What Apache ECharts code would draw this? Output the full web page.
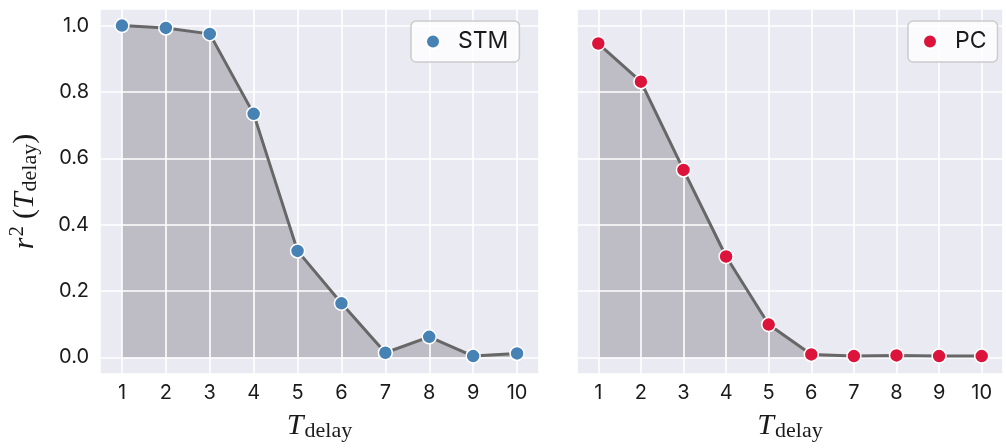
<!DOCTYPE html>
<html>
<head>
<meta charset="utf-8">
<script src="https://cdn.jsdelivr.net/npm/echarts@6/dist/echarts.min.js"></script>
<style>
  html, body { margin: 0; padding: 0; background: #ffffff; }
  #chart { width: 1006px; height: 448px; }
</style>
</head>
<body>
<div id="chart"></div>
<script>
// Delay values on the horizontal axis
const tDelay = [1, 2, 3, 4, 5, 6, 7, 8, 9, 10];
// r^2 of the recall task for each delay
const stmR2 = [1.000, 0.993, 0.975, 0.734, 0.321, 0.163, 0.014, 0.062, 0.004, 0.012];
const pcR2  = [0.946, 0.831, 0.565, 0.304, 0.099, 0.009, 0.004, 0.006, 0.004, 0.004];
// Tick labels shown on the y axis
const yTickLabels = ['0.0', '0.2', '0.4', '0.6', '0.8', '1.0'];
// Panel names
const panelNames = ['STM', 'PC'];
const markerColors = ['#4682b4', '#dc143c'];

const sansFont = 'Inter, "Open Sans", sans-serif';
const mathFont = '"Liberation Serif", "DejaVu Serif", serif';
const textColor = '#1a1a1a';

const stmPoints = tDelay.map((t, i) => [t, stmR2[i]]);
const pcPoints = tDelay.map((t, i) => [t, pcR2[i]]);

const mathRich = {
  i:   { fontFamily: mathFont, fontStyle: 'italic', fontSize: 30, color: textColor },
  p:   { fontFamily: mathFont, fontSize: 30, color: textColor },
  sup: { fontFamily: mathFont, fontSize: 21, color: textColor, padding: [0, 7, 16, 1] },
  sub: { fontFamily: mathFont, fontSize: 22, color: textColor, padding: [10, 0, 0, 1] }
};

function xAxisFor(gridIndex) {
  return {
    type: 'value', gridIndex: gridIndex, min: 0.5, max: 10.5,
    minInterval: 1, maxInterval: 1, splitNumber: 10, z: 2,
    axisLine: { show: false }, axisTick: { show: false },
    splitLine: { show: true, lineStyle: { color: '#ffffff', width: 1.6 } },
    axisLabel: {
      margin: 9, fontFamily: sansFont, fontSize: 20, color: textColor,
      formatter: v => (Math.abs(v - Math.round(v)) < 1e-6 ? String(Math.round(v)) : '')
    },
    name: '{i|T}{sub|delay}', nameLocation: 'middle', nameGap: 36,
    nameTextStyle: { rich: mathRich }
  };
}

function yAxisFor(gridIndex, withLabels) {
  const axis = {
    type: 'value', gridIndex: gridIndex, min: -0.05, max: 1.05,
    splitNumber: 5, maxInterval: 0.2, minInterval: 0.2, z: 2,
    axisLine: { show: false }, axisTick: { show: false },
    splitLine: { show: true, lineStyle: { color: '#ffffff', width: 1.6 } },
    axisLabel: {
      show: withLabels, margin: 11, fontFamily: sansFont, fontSize: 20, color: textColor,
      formatter: v => {
        const k = Math.round(v * 5);
        return Math.abs(v * 5 - k) < 1e-6 && yTickLabels[k] !== undefined ? yTickLabels[k] : '';
      }
    }
  };
  if (withLabels) {
    axis.name = '{i|r}{sup|2}{p|(}{i|T}{sub|delay}{p|)}';
    axis.nameLocation = 'middle';
    axis.nameRotate = 90;
    axis.nameGap = 56;
    axis.nameTextStyle = { rich: mathRich };
  }
  return axis;
}

function legendFor(name, left) {
  return {
    data: [name], left: left, top: 21, icon: 'circle',
    itemWidth: 40, itemHeight: 14, padding: [9, 11, 9, 14],
    backgroundColor: 'rgba(255,255,255,0.8)', borderColor: '#cccccc',
    borderWidth: 1.5, borderRadius: 5, selectedMode: false,
    textStyle: { fontFamily: sansFont, fontSize: 23, color: textColor }
  };
}

function areaSeries(idx, points) {
  return {
    type: 'line', name: panelNames[idx] + ' area', xAxisIndex: idx, yAxisIndex: idx,
    data: points, z: 1, symbol: 'none', silent: true,
    lineStyle: { width: 0 },
    areaStyle: { color: '#bebdc5', opacity: 1, origin: 'auto' }
  };
}

function lineSeries(idx, points) {
  return {
    type: 'line', name: panelNames[idx], xAxisIndex: idx, yAxisIndex: idx,
    data: points, z: 4, symbol: 'circle', symbolSize: 14, showSymbol: true,
    lineStyle: { color: '#676767', width: 3 },
    itemStyle: { color: markerColors[idx], borderColor: '#ffffff', borderWidth: 1.5 }
  };
}

const chart = echarts.init(document.getElementById('chart'), null, { renderer: 'canvas' });
chart.setOption({
  animation: false,
  backgroundColor: '#ffffff',
  grid: [
    { left: 100, top: 9, width: 439, height: 365, show: true, backgroundColor: '#eaeaf2', borderWidth: 0 },
    { left: 577, top: 9, width: 438, height: 365, show: true, backgroundColor: '#eaeaf2', borderWidth: 0 }
  ],
  xAxis: [xAxisFor(0), xAxisFor(1)],
  yAxis: [yAxisFor(0, true), yAxisFor(1, false)],
  legend: [legendFor('STM', 411), legendFor('PC', 908)],
  series: [
    areaSeries(0, stmPoints), lineSeries(0, stmPoints),
    areaSeries(1, pcPoints), lineSeries(1, pcPoints)
  ]
});
</script>
</body>
</html>
